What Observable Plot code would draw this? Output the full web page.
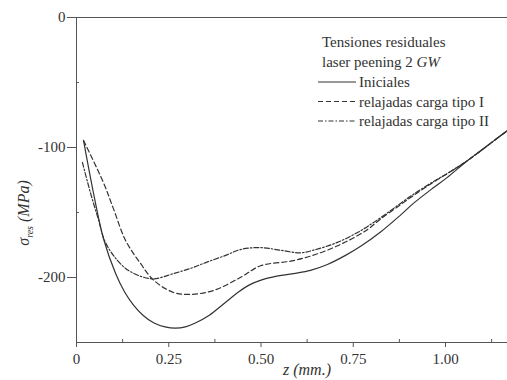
<!DOCTYPE html>
<html>
<head>
<meta charset="utf-8">
<script src="https://cdn.jsdelivr.net/npm/d3@7"></script>
<script src="https://cdn.jsdelivr.net/npm/@observablehq/plot@0.6"></script>
<style>
  html, body { margin: 0; padding: 0; background: #fff; }
  #chart { width: 507px; height: 380px; }
</style>
</head>
<body>
<div id="chart"></div>
<script>
// Depth z (mm) and residual stress (MPa)
const zIniciales = [0.019,0.046,0.073,0.106,0.130,0.154,0.180,0.210,0.240,0.268,0.295,0.322,0.360,0.400,0.440,0.470,0.500,0.534,0.588,0.634,0.680,0.729,0.770,0.824,0.878,0.913,0.967,1.005,1.060,1.149,1.168];
const sIniciales = [-94.6,-135,-170,-197,-211,-221,-229,-235,-238,-239,-238,-235,-229,-220,-211,-205.5,-202,-199.5,-197,-194.5,-190,-183,-176,-165,-152,-143,-131,-123,-110,-91,-87];

const zTipoI = [0.019,0.073,0.100,0.133,0.173,0.209,0.263,0.309,0.371,0.444,0.499,0.588,0.661,0.734,0.789,0.824,0.878,0.913,0.960,1.005,1.060,1.149,1.168];
const sTipoI = [-94.6,-127,-147,-171.5,-189,-202,-211.5,-213,-210,-200,-191,-187,-181,-172,-163,-155,-144,-137,-128,-120,-110,-91,-87];

const zTipoII = [0.016,0.038,0.060,0.076,0.100,0.133,0.173,0.209,0.263,0.309,0.355,0.404,0.444,0.499,0.553,0.607,0.642,0.707,0.770,0.824,0.878,0.913,0.960,1.005,1.060,1.149,1.168];
const sTipoII = [-111.5,-135,-156,-171.5,-183,-193,-199,-201,-197,-193,-188,-183,-178.5,-177,-179,-181,-179,-173,-164,-154,-143,-136,-127.5,-120,-110,-91,-87];

const xTicks = [0, 0.25, 0.5, 0.75, 1.0];
const xTickLabels = ["0", "0.25", "0.50", "0.75", "1.00"];
const xMinor = [0.125, 0.375, 0.625, 0.875, 1.125];
const yTicks = [0, -100, -200];
const yTickLabels = ["0", "-100", "-200"];
const yMinor = [-50, -150, -250];

const legendTitle = ["Tensiones residuales", "laser peening 2 "];
const seriesNames = ["Iniciales", "relajadas carga tipo I", "relajadas carga tipo II"];
const seriesDash = [null, "5,3", "5,2,1.5,2"];

const toRows = (zs, ss) => zs.map((z, i) => ({z, s: ss[i]}));
const series = [toRows(zIniciales, sIniciales), toRows(zTipoI, sTipoI), toRows(zTipoII, sTipoII)];

const ink = "#333";
const axisInk = "#555";

const svg = Plot.plot({
  width: 507,
  height: 380,
  marginLeft: 76,
  marginRight: 0,
  marginTop: 17,
  marginBottom: 38,
  x: {domain: [0, 1.168]},
  y: {domain: [-250, 0]},
  style: {fontFamily: "'Liberation Serif', 'Times New Roman', serif", fontSize: "15px", color: ink, background: "white"},
  marks: [
    Plot.axisX({ticks: xTicks, tickFormat: d => xTickLabels[xTicks.indexOf(d)], tickSize: 5, tickPadding: 6, label: null, stroke: axisInk}),
    Plot.axisY({ticks: yTicks, tickFormat: d => yTickLabels[yTicks.indexOf(d)], tickSize: 9, tickPadding: 2, label: null, stroke: axisInk}),
    Plot.ruleX(xMinor, {y1: -250, y2: -247.7, stroke: axisInk}),
    Plot.ruleY(yMinor, {x1: 0, x2: 0.008, stroke: axisInk}),
    Plot.ruleX([0], {stroke: axisInk}),
    Plot.ruleY([-250], {stroke: axisInk}),
    Plot.ruleY([0], {stroke: axisInk}),
    ...series.map((rows, i) => Plot.line(rows, {
      x: "z", y: "s", curve: "catmull-rom",
      stroke: ink, strokeWidth: 1.2,
      strokeDasharray: seriesDash[i]
    })),
    Plot.text(["z (mm.)"], {frameAnchor: "bottom", dx: 15, dy: 32, fontStyle: "italic", fontSize: 16, fill: ink})
  ]
});

const root = d3.select(svg);
// y-axis label with subscript
const yl = root.append("text")
  .attr("transform", "translate(29,213) rotate(-90)")
  .attr("text-anchor", "middle")
  .attr("font-style", "italic")
  .attr("font-size", 16)
  .attr("fill", ink);
yl.append("tspan").text("σ");
yl.append("tspan").attr("font-size", 10).attr("dy", 4).text("res");
yl.append("tspan").attr("dy", -4).text(" (MPa)");

// legend
const lg = root.append("g").attr("fill", ink).attr("font-size", 15).attr("text-anchor", "start");
lg.append("text").attr("x", 322).attr("y", 42).attr("dy", "0.35em").text(legendTitle[0]);
const t2 = lg.append("text").attr("x", 322).attr("y", 62).attr("dy", "0.35em");
t2.append("tspan").text(legendTitle[1]);
t2.append("tspan").attr("font-style", "italic").text("GW");
seriesNames.forEach((name, i) => {
  const y = 82 + i * 19.5;
  lg.append("line").attr("x1", 318).attr("x2", 356).attr("y1", y).attr("y2", y)
    .attr("stroke", ink).attr("stroke-width", 1.2)
    .attr("stroke-dasharray", seriesDash[i]);
  lg.append("text").attr("x", 359).attr("y", y).attr("dy", "0.35em").text(name);
});

document.getElementById("chart").appendChild(svg);
</script>
</body>
</html>
